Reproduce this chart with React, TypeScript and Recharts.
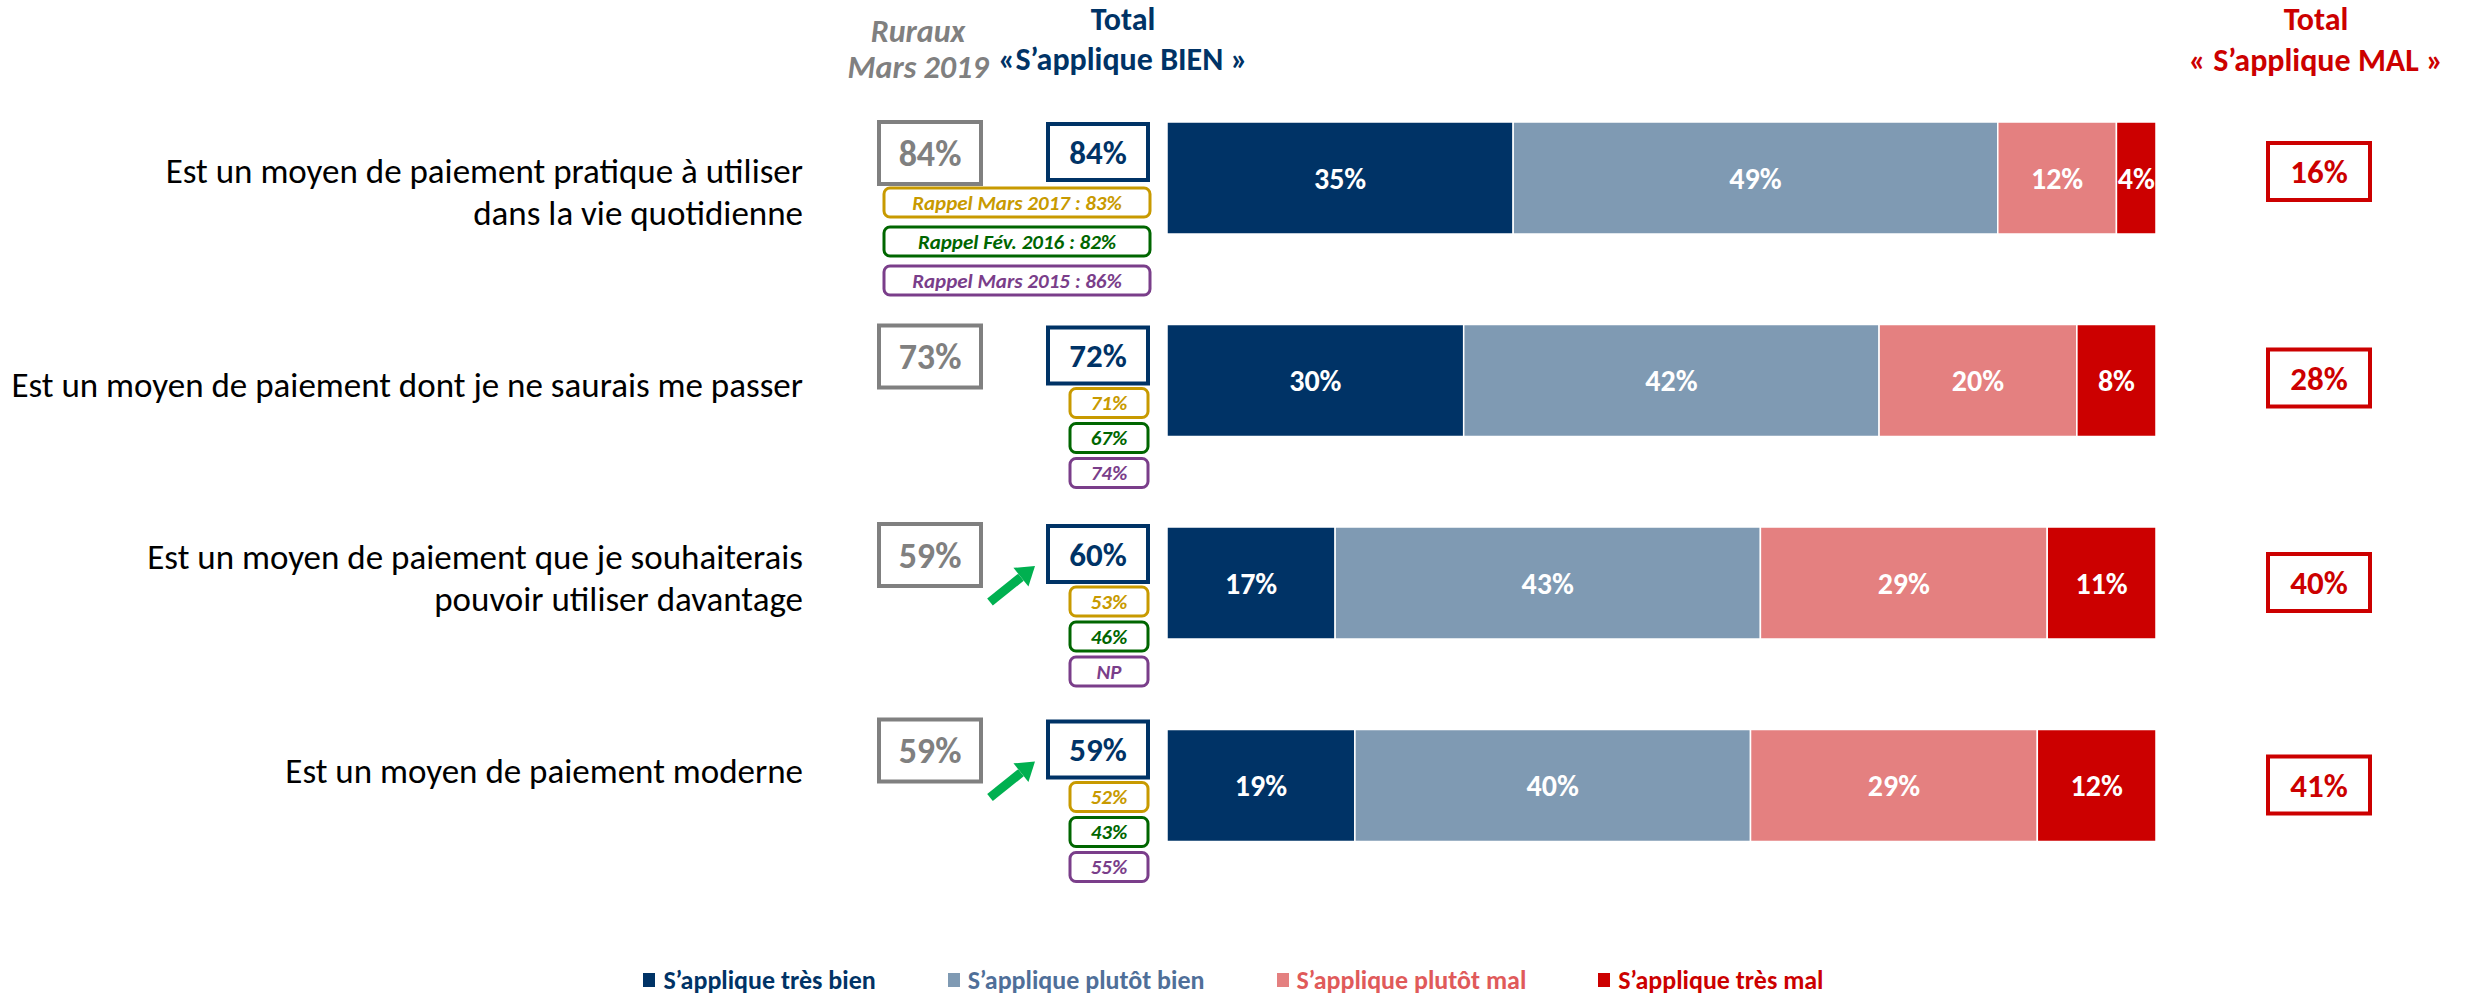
import React from "react"
import { Bar, BarChart, LabelList, XAxis, YAxis } from "recharts"

const W = 2467
const H = 996
const FONT = "Carlito, Lato, 'Open Sans', sans-serif"

// row labels, one entry per line
const categories = [
  ["Est un moyen de paiement pratique à utiliser", "dans la vie quotidienne"],
  ["Est un moyen de paiement dont je ne saurais me passer"],
  ["Est un moyen de paiement que je souhaiterais", "pouvoir utiliser davantage"],
  ["Est un moyen de paiement moderne"],
]

const tresBien = [35, 30, 17, 19]
const plutotBien = [49, 42, 43, 40]
const plutotMal = [12, 20, 29, 29]
const tresMal = [4, 8, 11, 12]

const totalBien = [84, 72, 60, 59]
const totalMal = [16, 28, 40, 41]
const ruraux2019 = [84, 73, 59, 59]
const rappel2017 = ["83%", "71%", "53%", "52%"]
const rappel2016 = ["82%", "67%", "46%", "43%"]
const rappel2015 = ["86%", "74%", "NP", "55%"]
const rappelPrefix = ["Rappel Mars 2017 : ", "Rappel Fév. 2016 : ", "Rappel Mars 2015 : "]
const hausse = [false, false, true, true]

const series = [
  { key: "tresBien", name: "S’applique très bien", color: "#003366", text: "#003366" },
  { key: "plutotBien", name: "S’applique plutôt bien", color: "#7F9AB3", text: "#4F6F99" },
  { key: "plutotMal", name: "S’applique plutôt mal", color: "#E48080", text: "#E05A5A" },
  { key: "tresMal", name: "S’applique très mal", color: "#CC0000", text: "#CC0000" },
]

const rappelColors = ["#C89A00", "#006600", "#7A3E8A"]

// small per-row nudges of the slide layout (not data)
const labelNudge = [14, 4, -5, -15]
const boxNudge = [3, 4, 0, -7]
const malNudge = [-4, 0, 2, 2]

const rows = categories.map((lines, i) => ({
  label: lines.join(" "),
  tresBien: tresBien[i],
  plutotBien: plutotBien[i],
  plutotMal: plutotMal[i],
  tresMal: tresMal[i],
}))

// everything drawn left and right of a bar row, anchored on the bar's centre
function RowAnnotations(props: any) {
  const { y, height, index } = props
  const i = index
  const cy = Number(y) + Number(height) / 2
  const lines = categories[i]
  const lineH = 42
  const firstBase = cy + labelNudge[i] - ((lines.length - 1) * lineH) / 2 + 12
  const T = cy - 57 + boxNudge[i]
  const G = cy - 59 + boxNudge[i]
  const first = i === 0
  const rx = first ? 884 : 1070
  const rw = first ? 266 : 78
  const pitch = first ? 39 : 35
  const r0 = T + (first ? 64 : 61)
  const rappels = [rappel2017[i], rappel2016[i], rappel2015[i]]
  const M = cy - 31 + malNudge[i]

  // green arrow
  const tip = { x: 1035, y: T + 40 }
  const tail = { x: 990, y: T + 76 }
  const dx = tip.x - tail.x
  const dy = tip.y - tail.y
  const len = Math.sqrt(dx * dx + dy * dy)
  const ux = dx / len
  const uy = dy / len
  const nx = -uy
  const ny = ux
  const bx = tip.x - 18 * ux
  const by = tip.y - 18 * uy

  return (
    <g fontFamily={FONT}>
      <text x={803} textAnchor="end" fontSize={35} fill="#000">
        {lines.map((l, k) => (
          <tspan key={k} x={803} y={firstBase + k * lineH}>
            {l}
          </tspan>
        ))}
      </text>

      <rect x={879} y={G} width={102} height={62} fill="#fff" stroke="#808080" strokeWidth={4} />
      <text x={930} y={G + 31} dy="0.35em" textAnchor="middle" fontSize={36} fontWeight={600} fill="#808080">
        {ruraux2019[i]}%
      </text>

      <rect x={1048} y={T} width={100} height={56} fill="#fff" stroke="#003366" strokeWidth={4} />
      <text x={1098} y={T + 28} dy="0.35em" textAnchor="middle" fontSize={33} fontWeight={700} fill="#003366">
        {totalBien[i]}%
      </text>

      {rappels.map((r, k) => (
        <g key={k}>
          <rect
            x={rx}
            y={r0 + k * pitch}
            width={rw}
            height={29}
            rx={6}
            fill="#fff"
            stroke={rappelColors[k]}
            strokeWidth={3}
          />
          <text
            x={rx + rw / 2}
            y={r0 + k * pitch + 14.5}
            dy="0.35em"
            textAnchor="middle"
            fontSize={21}
            fontWeight={700}
            fontStyle="italic"
            fill={rappelColors[k]}
          >
            {first ? rappelPrefix[k] + r : r}
          </text>
        </g>
      ))}

      {hausse[i] && (
        <g fill="#00B050">
          <line x1={tail.x} y1={tail.y} x2={bx} y2={by} stroke="#00B050" strokeWidth={9} />
          <polygon
            points={`${tip.x},${tip.y} ${bx + 12 * nx},${by + 12 * ny} ${bx - 12 * nx},${by - 12 * ny}`}
          />
        </g>
      )}

      <rect x={2268} y={M} width={102} height={57} fill="#fff" stroke="#CC0000" strokeWidth={4} />
      <text x={2319} y={M + 28.5} dy="0.35em" textAnchor="middle" fontSize={33} fontWeight={700} fill="#CC0000">
        {totalMal[i]}%
      </text>
    </g>
  )
}

function Header({ cx, cy, color, italic, children }: any) {
  return (
    <div
      style={{
        position: "absolute",
        left: cx - 250,
        top: cy - 20,
        width: 500,
        lineHeight: "40px",
        textAlign: "center",
        fontSize: 32,
        fontWeight: 700,
        fontStyle: italic ? "italic" : "normal",
        color,
        whiteSpace: "nowrap",
      }}
    >
      {children}
    </div>
  )
}

export default function App() {
  return (
    <div style={{ position: "absolute", left: 0, top: 0, width: W, height: H, background: "#fff", fontFamily: FONT }}>
      <BarChart
        width={W}
        height={H}
        data={rows}
        layout="vertical"
        margin={{ top: 77, right: 311, bottom: 109, left: 1167 }}
        barSize={112}
      >
        <XAxis type="number" domain={[0, 100]} hide />
        <YAxis type="category" dataKey="label" width={0} hide />
        {series.map((s, si) => (
          <Bar
            key={s.key}
            dataKey={s.key}
            name={s.name}
            stackId="a"
            fill={s.color}
            stroke="#fff"
            strokeWidth={1.5}
            isAnimationActive={false}
          >
            <LabelList
              dataKey={s.key}
              position="center"
              fill="#fff"
              fontSize={30}
              fontWeight={700}
              fontFamily={FONT}
              formatter={(v: any) => `${v}%`}
            />
            {si === 0 && <LabelList dataKey={s.key} content={<RowAnnotations />} />}
          </Bar>
        ))}
      </BarChart>

      <Header cx={918} cy={32} color="#808080" italic>Ruraux</Header>
      <Header cx={918} cy={68} color="#808080" italic>Mars 2019</Header>
      <Header cx={1123} cy={20} color="#003366">Total</Header>
      <Header cx={1123} cy={60} color="#003366">«S’applique BIEN »</Header>
      <Header cx={2316} cy={20} color="#CC0000">Total</Header>
      <Header cx={2316} cy={61} color="#CC0000">« S’applique MAL »</Header>

      <div
        style={{
          position: "absolute",
          left: 0,
          top: 964,
          width: W,
          display: "flex",
          justifyContent: "center",
          fontSize: 26,
          fontWeight: 700,
          lineHeight: "32px",
        }}
      >
        {series.map((s) => (
          <div key={s.key} style={{ display: "flex", alignItems: "center", margin: "0 36px", color: s.text }}>
            <span style={{ display: "inline-block", width: 12, height: 14, background: s.color, marginRight: 8 }} />
            {s.name}
          </div>
        ))}
      </div>
    </div>
  )
}
